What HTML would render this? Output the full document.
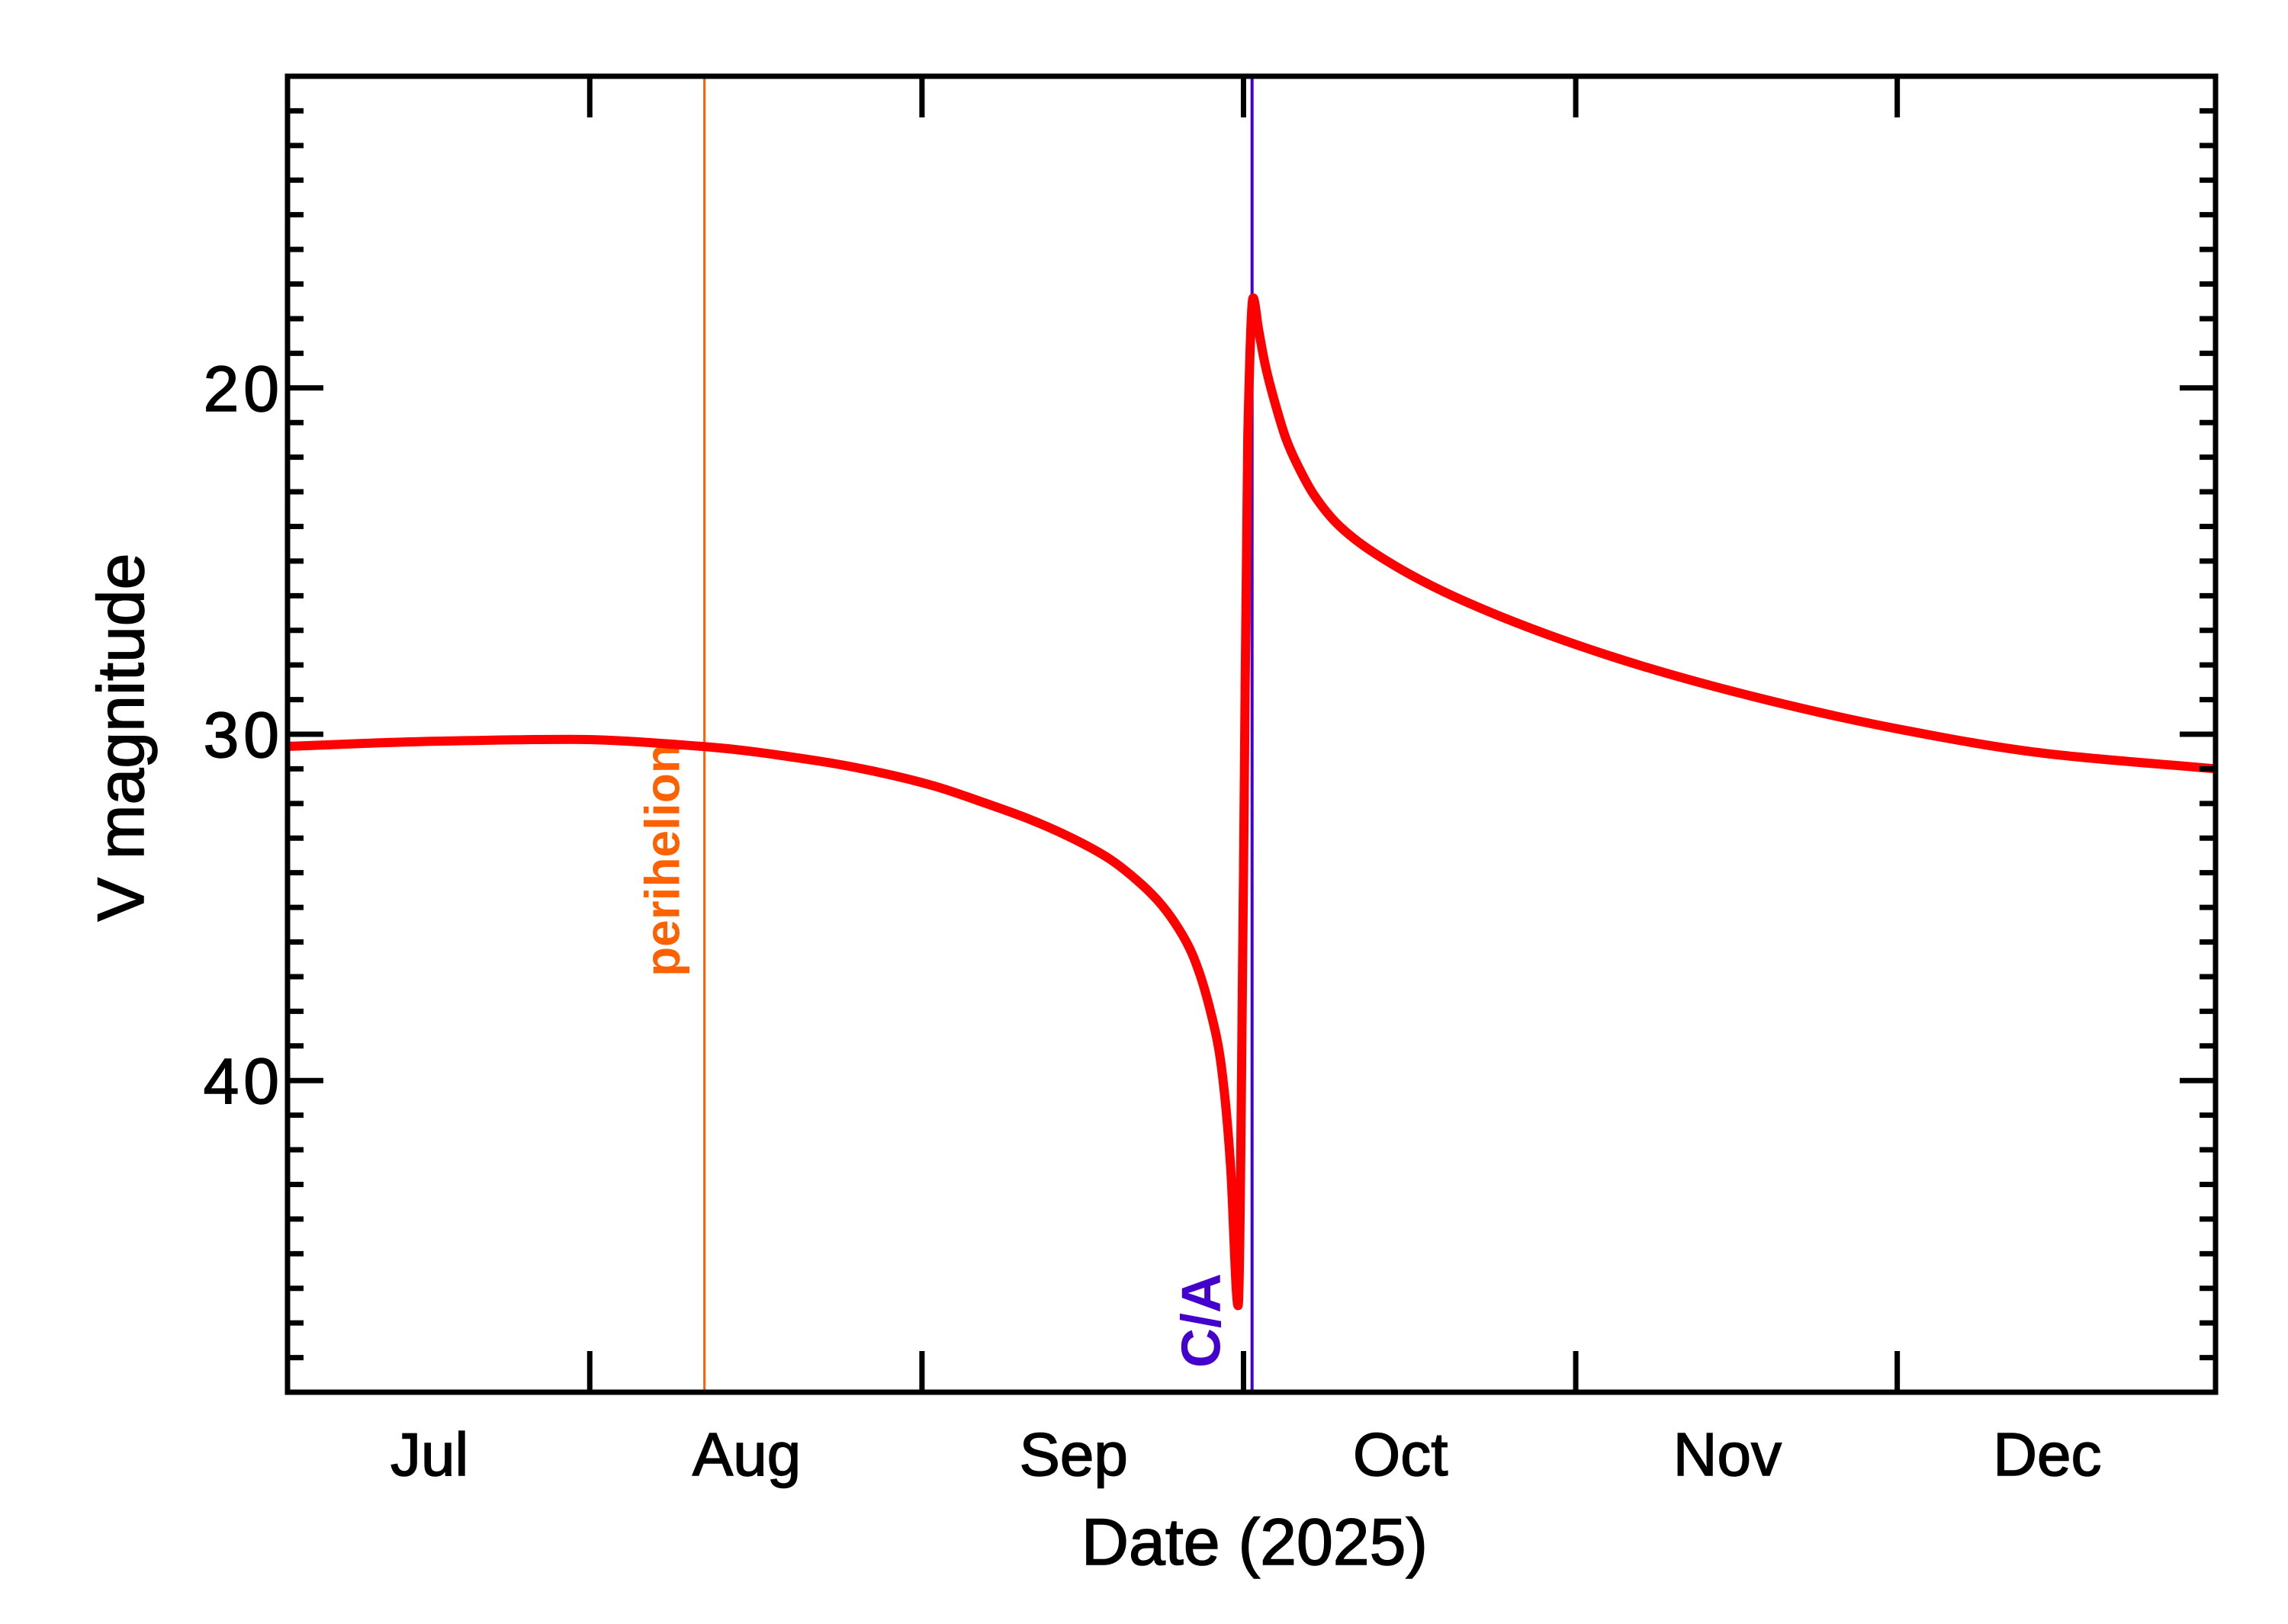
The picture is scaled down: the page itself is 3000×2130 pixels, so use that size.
<!DOCTYPE html>
<html><head><meta charset="utf-8"><style>
html,body{margin:0;padding:0;background:#fff}
svg text{font-family:"Liberation Sans","DejaVu Sans",sans-serif}
</style></head><body>
<svg id="chart" width="3000" height="2125" viewBox="0 0 3000 2125" xmlns="http://www.w3.org/2000/svg">
<rect width="3000" height="2125" fill="#fff"/>
<g id="marks"></g>
<g id="axes"></g>
<text x="0" y="0" transform="translate(188,967) rotate(-90)" text-anchor="middle" font-size="86" stroke="#000" stroke-width="1.5">V magnitude</text>
<text x="1645" y="2052" text-anchor="middle" font-size="86" stroke="#000" stroke-width="1.5">Date (2025)</text>
</svg>
<script>
// days since Jul 1 2025
const days = [2.8,16.8,29.1,41.4,52.3,58,63.2,68,72,76,79.5,82,84,85.5,87,88,89,89.7,90.3,90.8,91.5,92.0,92.4,92.9,93.4,94,95,96,97,98.6,101,105.4,112.2,125.8,139.4,153.1,166.7,182.7];
const mags = [30.35,30.2,30.15,30.35,30.77,31.1,31.5,32.0,32.45,33.0,33.6,34.2,34.8,35.4,36.2,37.0,38.1,39.1,40.6,42.5,46.5,34.0,21.4,17.4,18.3,19.3,20.5,21.5,22.2,23.1,24.0,25.0,26.1,27.7,28.9,29.85,30.55,31.0];
const monthLabels = ["Jul","Aug","Sep","Oct","Nov","Dec"];
const monthStarts = [0,31,62,92,123,153,184];
const yTickLabels = [20,30,40];
const perihelionDay = 41.7;
const closeApproachDay = 92.8;

const X0=377,X1=2905,Y0=100,Y1=1826,D0=2.8,D1=182.7,M0=11,M1=49;
const sx=d=>X0+(d-D0)/(D1-D0)*(X1-X0);
const sy=m=>Y0+(m-M0)/(M1-M0)*(Y1-Y0);
const NS="http://www.w3.org/2000/svg";
const marks=document.getElementById('marks'), axes=document.getElementById('axes');
function mk(tag,attrs,parent){const e=document.createElementNS(NS,tag);for(const k in attrs)e.setAttribute(k,attrs[k]);parent.appendChild(e);return e;}

let l=mk('line',{x1:sx(perihelionDay),x2:sx(perihelionDay),y1:Y0,y2:Y1,stroke:'#ff6000','stroke-width':3},marks);


let t=mk('text',{transform:`translate(${sx(perihelionDay)-33},1128) rotate(-90)`,'text-anchor':'middle','font-size':64,fill:'#ff6000','font-weight':'bold'},marks);
t.textContent='perihelion';


l=mk('line',{x1:sx(closeApproachDay),x2:sx(closeApproachDay),y1:Y0,y2:Y1,stroke:'#4400cc','stroke-width':4},marks);


t=mk('text',{transform:`translate(${sx(closeApproachDay)-42},1732) rotate(-90)`,'text-anchor':'middle','font-size':72,fill:'#4400cc','font-weight':'bold'},marks);
t.textContent='C/A';



// monotone cubic path
const px=days.map(sx), py=mags.map(sy), n=px.length;
const dl=[],sl=[];
for(let i=0;i<n-1;i++){dl.push(px[i+1]-px[i]);sl.push((py[i+1]-py[i])/(px[i+1]-px[i]));}
const m=[sl[0]];
for(let i=1;i<n-1;i++){m.push(sl[i-1]*sl[i]<=0?0:(3*(dl[i-1]+dl[i]))/((2*dl[i]+dl[i-1])/sl[i-1]+(dl[i]+2*dl[i-1])/sl[i]));}
m.push(sl[n-2]);
let d='M'+px[0].toFixed(1)+','+py[0].toFixed(1);
for(let i=0;i<n-1;i++){const h=dl[i]/3;
d+=`C${(px[i]+h).toFixed(1)},${(py[i]+m[i]*h).toFixed(1)} ${(px[i+1]-h).toFixed(1)},${(py[i+1]-m[i+1]*h).toFixed(1)} ${px[i+1].toFixed(1)},${py[i+1].toFixed(1)}`;}
const p=mk('path',{d:d,fill:'none',stroke:'#ff0000','stroke-width':12,'stroke-linejoin':'round'},marks);



const box=mk('rect',{x:X0,y:Y0,width:X1-X0,height:Y1-Y0,fill:'none',stroke:'#000','stroke-width':7},axes);


monthStarts.forEach(ms=>{
  if(ms<=D0||ms>=D1)return;
  const x=sx(ms);
  mk('line',{x1:x,x2:x,y1:Y0,y2:Y0+54,stroke:'#000','stroke-width':7},axes);
  mk('line',{x1:x,x2:x,y1:Y1,y2:Y1-54,stroke:'#000','stroke-width':7},axes);
});
monthLabels.forEach((mm,i)=>{
  const c=(Math.max(monthStarts[i],D0)+Math.min(monthStarts[i+1],D1))/2;
  const tx=mk('text',{x:sx(c)-12,y:1935,'text-anchor':'middle','font-size':80,stroke:'#000','stroke-width':1.5},axes);
  tx.textContent=mm;
  
  
});
for(let k=M0+1;k<M1;k++){
  const y=sy(k),len=(k%10===0)?47:21;
  mk('line',{x1:X0,x2:X0+len,y1:y,y2:y,stroke:'#000','stroke-width':7},axes);
  mk('line',{x1:X1,x2:X1-len,y1:y,y2:y,stroke:'#000','stroke-width':7},axes);
}
yTickLabels.forEach(v=>{
  const tx=mk('text',{x:372,y:sy(v)+30,'text-anchor':'end','font-size':84,'letter-spacing':6,stroke:'#000','stroke-width':1.5},axes);
  tx.textContent=v;
  
  
});
</script>
</body></html>
